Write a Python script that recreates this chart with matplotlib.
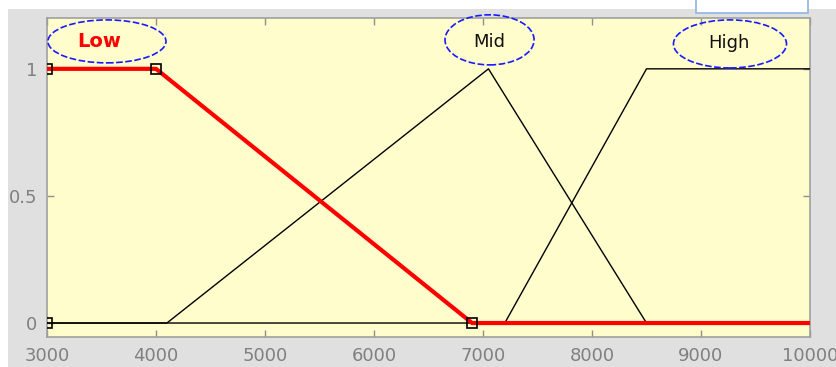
import numpy as np
import matplotlib
matplotlib.use("Agg")
import matplotlib.pyplot as plt
from matplotlib.patches import Ellipse, Rectangle

# membership function breakpoints
low_x = [3000, 4000, 6900, 10000]
low_y = [1, 1, 0, 0]
mid_x = [3000, 4100, 7050, 8500, 10000]
mid_y = [0, 0, 1, 0, 0]
high_x = [3000, 7200, 8500, 10000]
high_y = [0, 0, 1, 1]

# parameter handles of the selected MF (Low)
handle_x = [3000, 3000, 4000, 6900]
handle_y = [0, 1, 1, 0]

mf_names = ['Low', 'Mid', 'High']
label_x = [3480, 7055, 9260]
label_y = [1.108, 1.106, 1.100]
oval_x = [3550, 7060, 9266]
oval_y = [1.108, 1.114, 1.098]
oval_w = [1083, 817, 1037]
oval_h = [0.169, 0.197, 0.189]

xticks = [3000, 4000, 5000, 6000, 7000, 8000, 9000, 10000]
yticks = [0, 0.5, 1]
yticklabels = ['0', '0.5', '1']


def main():
    W, H = 837, 367
    fig = plt.figure(figsize=(W / 100, H / 100), dpi=100, facecolor='#e0e0e0')
    ax = fig.add_axes([47 / W, 30 / H, 763 / W, 319 / H])
    ax.set_facecolor('#fffdcc')

    ax.plot(mid_x, mid_y, color='black', lw=1.0, zorder=3)
    ax.plot(high_x, high_y, color='black', lw=1.0, zorder=3)
    ax.plot(low_x, low_y, color='#ff0000', lw=3.0, zorder=4)
    ax.plot(handle_x, handle_y, 's', ms=6.5, mfc='none', mec='black', mew=1.2, zorder=5)

    for i, name in enumerate(mf_names):
        ax.add_patch(Ellipse((oval_x[i], oval_y[i]), oval_w[i], oval_h[i], fill=False,
                             edgecolor='#1a1aff', lw=1.2, linestyle=(0, (4, 1.5)),
                             clip_on=False, zorder=6))
        if name == 'Low':
            ax.text(label_x[i], label_y[i], name, color='#ff0000', fontsize=14, fontweight='bold',
                    ha='center', va='center', zorder=7)
        else:
            ax.text(label_x[i], label_y[i], name, color='#111111', fontsize=13,
                    ha='center', va='center', zorder=7)

    ax.set_xlim(3000, 10000)
    ax.set_ylim(-0.055, 1.2)
    ax.set_xticks(xticks)
    ax.set_yticks(yticks)
    ax.set_yticklabels(yticklabels)
    ax.tick_params(direction='in', length=5, width=1, color='#909090', labelcolor='#808080',
                   labelsize=13, top=True, right=True)
    ax.tick_params(axis='x', pad=7)
    ax.tick_params(axis='y', pad=7)
    for s in ax.spines.values():
        s.set_color('#a0a0a0')
        s.set_linewidth(1.2)

    # white margins of the screenshot and the partial widget at top right
    fig.add_artist(Rectangle((0, 0), 8.5 / W, 1, transform=fig.transFigure,
                             facecolor='white', edgecolor='none', zorder=10))
    fig.add_artist(Rectangle((0, (H - 9) / H), 1, 9 / H, transform=fig.transFigure,
                             facecolor='white', edgecolor='none', zorder=10))
    fig.add_artist(Rectangle((696 / W, (H - 12.5) / H), 112 / W, 20 / H, transform=fig.transFigure,
                             facecolor='white', edgecolor='#8fb4e0', lw=1.2, zorder=11))

    fig.savefig('out.png', dpi=100, facecolor=fig.get_facecolor())


if __name__ == "__main__":
    main()
